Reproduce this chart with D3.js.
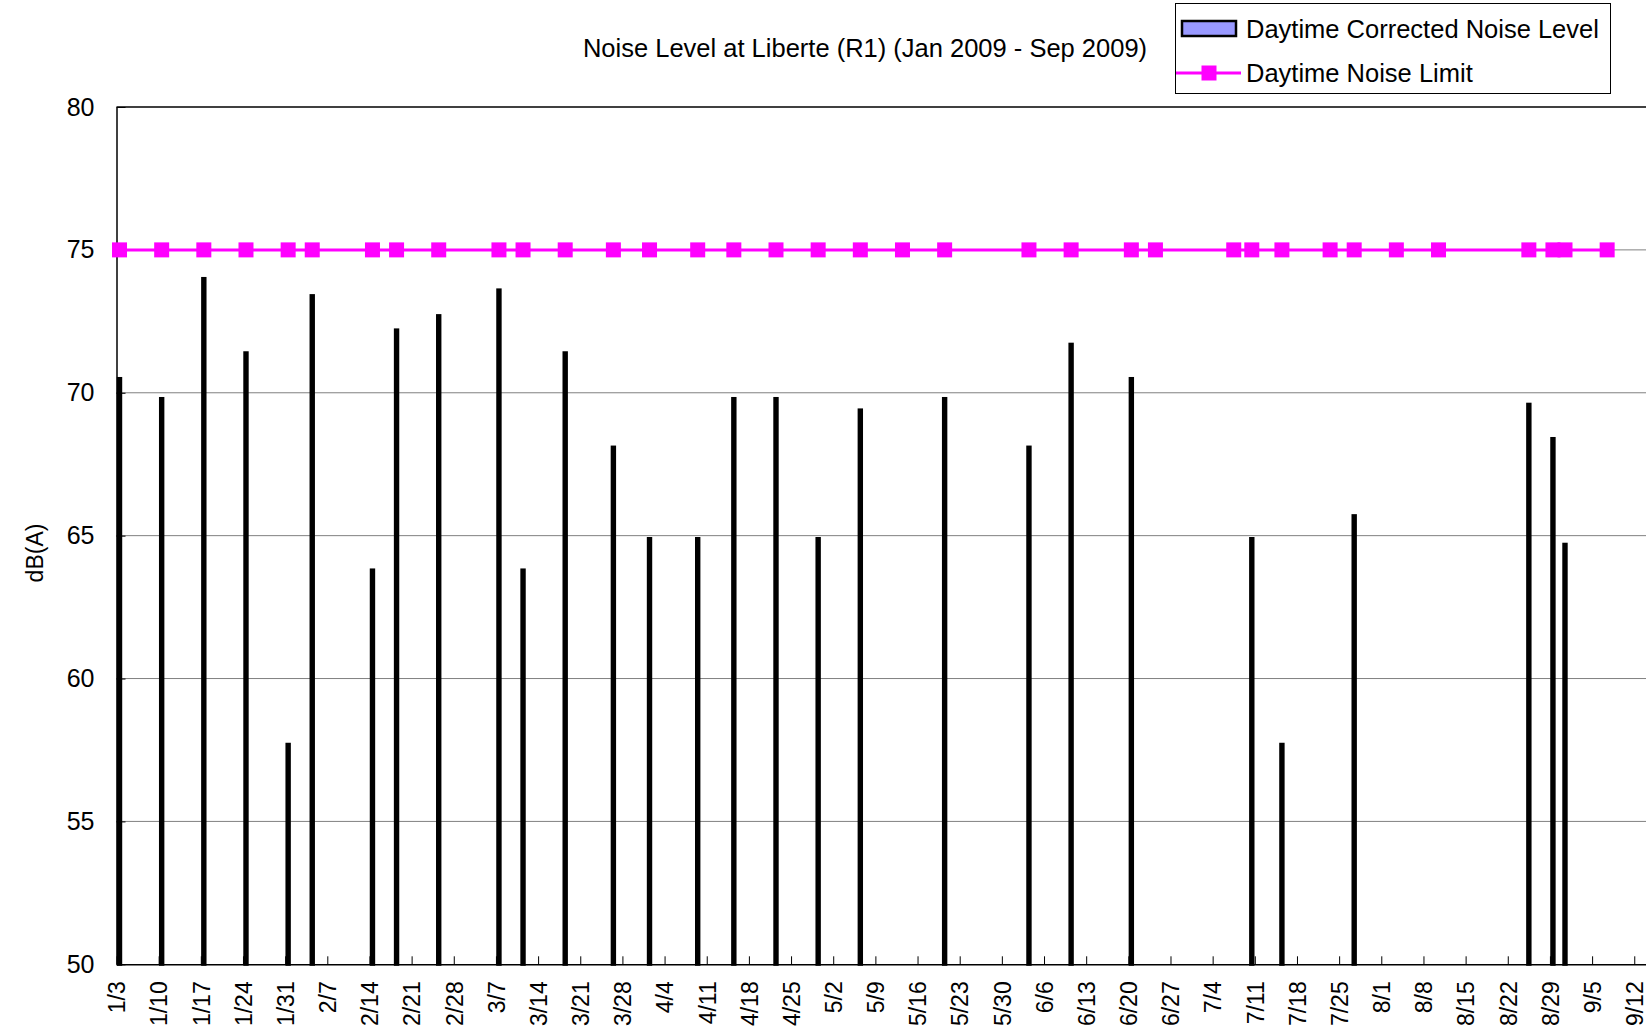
<!DOCTYPE html>
<html>
<head>
<meta charset="utf-8">
<script src="https://cdn.jsdelivr.net/npm/d3@7"></script>
<style>
  body { margin: 0; background: #fff; }
  text { font-family: "Liberation Sans", Arial, sans-serif; fill: #000; }
</style>
</head>
<body>
<div id="chart"></div>
<script>
// ---- data ----
const title = "Noise Level at Liberte (R1) (Jan 2009 - Sep 2009)";
const barLabel = "Daytime Corrected Noise Level";
const lineLabel = "Daytime Noise Limit";
const yLabel = "dB(A)";

const barDates = ["1/3","1/10","1/17","1/24","1/31","2/4","2/14","2/18","2/25","3/7",
  "3/11","3/18","3/26","4/1","4/9","4/15","4/22","4/29","5/6","5/20",
  "6/3","6/10","6/20","7/10","7/15","7/27","8/25","8/29","8/31"];
const barValues = [70.5, 69.8, 74.0, 71.4, 57.7, 73.4, 63.8, 72.2, 72.7, 73.6,
  63.8, 71.4, 68.1, 64.9, 64.9, 69.8, 69.8, 64.9, 69.4, 69.8,
  68.1, 71.7, 70.5, 64.9, 57.7, 65.7, 69.6, 68.4, 64.7];

const limitDates = ["1/3","1/10","1/17","1/24","1/31","2/4","2/14","2/18","2/25","3/7",
  "3/11","3/18","3/26","4/1","4/9","4/15","4/22","4/29","5/6","5/13",
  "5/20","6/3","6/10","6/20","6/24","7/7","7/10","7/15","7/23","7/27",
  "8/3","8/10","8/25","8/29","8/31","9/7"];
const limitValues = [75, 75, 75, 75, 75, 75, 75, 75, 75, 75,
  75, 75, 75, 75, 75, 75, 75, 75, 75, 75,
  75, 75, 75, 75, 75, 75, 75, 75, 75, 75,
  75, 75, 75, 75, 75, 75];

const tickLabels = ["1/3","1/10","1/17","1/24","1/31","2/7","2/14","2/21","2/28","3/7",
  "3/14","3/21","3/28","4/4","4/11","4/18","4/25","5/2","5/9","5/16",
  "5/23","5/30","6/6","6/13","6/20","6/27","7/4","7/11","7/18","7/25",
  "8/1","8/8","8/15","8/22","8/29","9/5","9/12"];
const yTicks = [50, 55, 60, 65, 70, 75, 80];

// ---- layout ----
const W = 1646, H = 1029;
const plot = { left: 116.5, right: 1646.3, top: 107, bottom: 964.3 };

function parse(s) {
  const [m, d] = s.split("/").map(Number);
  return new Date(Date.UTC(2009, m - 1, d));
}

const svg = d3.select("#chart").append("svg")
  .attr("width", W)
  .attr("height", H);

svg.append("rect").attr("width", W).attr("height", H).attr("fill", "#fff");

// scales
const x = d3.scaleUtc()
  .domain([parse("1/3"), parse("9/14")])
  .range([plot.left, plot.right]);
const y = d3.scaleLinear()
  .domain([50, 80])
  .range([plot.bottom, plot.top]);

// bars / points sit in the middle of their day
const mid = s => x(d3.utcHour.offset(parse(s), 12));

// gridlines
svg.append("g")
  .selectAll("line")
  .data(yTicks.filter(v => v > 50 && v < 80))
  .join("line")
  .attr("x1", plot.left).attr("x2", W)
  .attr("y1", d => y(d)).attr("y2", d => y(d))
  .attr("stroke", "#808080")
  .attr("stroke-width", 1);

// top border of plot area
svg.append("line")
  .attr("x1", plot.left).attr("x2", W)
  .attr("y1", y(80)).attr("y2", y(80))
  .attr("stroke", "#000").attr("stroke-width", 1.5);

// bars (so thin that the black outline covers the fill)
svg.append("g")
  .selectAll("rect")
  .data(barDates.map((d, i) => ({ d, v: barValues[i] })))
  .join("rect")
  .attr("x", d => mid(d.d) - 1.2)
  .attr("width", 2.4)
  .attr("y", d => y(d.v))
  .attr("height", d => plot.bottom - y(d.v))
  .attr("fill", "#9999FF")
  .attr("stroke", "#000")
  .attr("stroke-width", 3);

// x axis
const xAxis = d3.axisBottom(x)
  .tickValues(tickLabels.map(parse))
  .tickFormat((d, i) => tickLabels[i])
  .tickSizeInner(-8)
  .tickSizeOuter(0);

const gx = svg.append("g")
  .attr("transform", "translate(0," + plot.bottom + ")")
  .call(xAxis);
gx.select(".domain").attr("stroke", "#000").attr("stroke-width", 1.5);
gx.selectAll(".tick line").attr("stroke", "#000");
gx.selectAll(".tick text")
  .attr("transform", "rotate(-90)")
  .attr("x", -17)
  .attr("y", 0)
  .attr("dy", "0.36em")
  .attr("text-anchor", "end")
  .style("font-size", "23px")
  .style("font-family", "'Liberation Sans', Arial, sans-serif");

// y axis
const yAxis = d3.axisLeft(y)
  .tickValues(yTicks)
  .tickSizeInner(-9)
  .tickSizeOuter(0)
  .tickPadding(22);

const gy = svg.append("g")
  .attr("transform", "translate(" + plot.left + ",0)")
  .call(yAxis);
gy.select(".domain").attr("stroke", "#000").attr("stroke-width", 1.5);
gy.selectAll(".tick line").attr("stroke", "#000");
gy.selectAll(".tick text")
  .style("font-size", "25px")
  .style("font-family", "'Liberation Sans', Arial, sans-serif");

// noise limit line
const line = d3.line()
  .x((d, i) => mid(d))
  .y((d, i) => y(limitValues[i]));

svg.append("path")
  .datum(limitDates)
  .attr("d", line)
  .attr("fill", "none")
  .attr("stroke", "#FF00FF")
  .attr("stroke-width", 3);

svg.append("g")
  .selectAll("rect")
  .data(limitDates.map((d, i) => ({ d, v: limitValues[i] })))
  .join("rect")
  .attr("x", d => mid(d.d) - 7.5)
  .attr("y", d => y(d.v) - 7.5)
  .attr("width", 15)
  .attr("height", 15)
  .attr("fill", "#FF00FF");

// y label
svg.append("text")
  .attr("transform", "translate(35,553) rotate(-90)")
  .attr("text-anchor", "middle")
  .attr("dy", "0.35em")
  .style("font-size", "23px")
  .text(yLabel);

// title
svg.append("text")
  .attr("x", 865)
  .attr("y", 57)
  .attr("text-anchor", "middle")
  .style("font-size", "25.5px")
  .text(title);

// legend
const lg = svg.append("g");
lg.append("rect")
  .attr("x", 1175.5).attr("y", 3.5)
  .attr("width", 435).attr("height", 90)
  .attr("fill", "#fff")
  .attr("stroke", "#000")
  .attr("stroke-width", 1);

lg.append("rect")
  .attr("x", 1182).attr("y", 21)
  .attr("width", 54).attr("height", 15)
  .attr("fill", "#9999FF")
  .attr("stroke", "#000")
  .attr("stroke-width", 2.5);
lg.append("text")
  .attr("x", 1246).attr("y", 29)
  .attr("dy", "0.36em")
  .style("font-size", "25.5px")
  .text(barLabel);

lg.append("line")
  .attr("x1", 1176).attr("x2", 1241)
  .attr("y1", 73).attr("y2", 73)
  .attr("stroke", "#FF00FF")
  .attr("stroke-width", 3);
lg.append("rect")
  .attr("x", 1209 - 7.5).attr("y", 73 - 7.5)
  .attr("width", 15).attr("height", 15)
  .attr("fill", "#FF00FF");
lg.append("text")
  .attr("x", 1246).attr("y", 73)
  .attr("dy", "0.36em")
  .style("font-size", "25.5px")
  .text(lineLabel);
</script>
</body>
</html>
